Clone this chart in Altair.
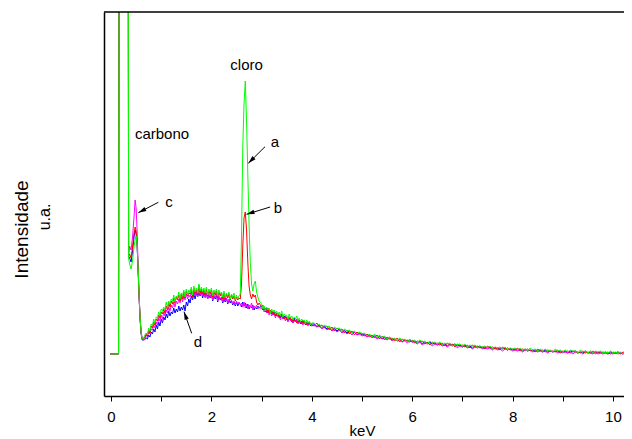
import math
import numpy as np
import pandas as pd
import altair as alt

FONT = "Liberation Sans"

# ---------------- energy grids (keV) ----------------
E_start = [-0.02, 0.15, 0.175, 0.33, 0.35, 0.37, 0.40, 0.43, 0.46, 0.48, 0.50,
           0.52, 0.54, 0.56, 0.58, 0.60, 0.62]
E_low = [round(v, 3) for v in np.arange(0.65, 2.5501, 0.025)]     # 77
E_cl = [round(v, 3) for v in np.arange(2.575, 2.9501, 0.025)]     # 16
E_mid = [round(v, 3) for v in np.arange(3.0, 4.0001, 0.025)]      # 41
E_high = [round(v, 3) for v in np.arange(4.05, 10.4001, 0.05)]    # 128

# ---------------- intensities (u.a.) ----------------
# a = green, b = red, c = magenta, d = blue
a_start = [42, 42, 1200, 1200, 138, 132, 127, 136, 150, 156, 160, 152, 128, 100, 78, 63, 57]
b_start = [42, 42, 1200, 1200, 140, 142, 138, 150, 163, 169, 165, 152, 126, 99, 77, 63, 57]
c_start = [42, 42, 1200, 1200, 142, 150, 146, 160, 180, 196, 188, 165, 130, 100, 78, 64, 58]
d_start = [42, 42, 1200, 1200, 140, 138, 134, 145, 160, 166, 162, 150, 125, 98, 76, 62, 56]

a_low = [58, 61, 63, 61, 68, 65, 72, 70, 77, 73,
         79, 78, 84, 80, 87, 85, 89, 86, 94, 88,
         95, 92, 97, 95, 101, 94, 100, 98, 104, 97,
         103, 100, 106, 99, 107, 101, 106, 103, 109, 101,
         110, 104, 108, 103, 112, 105, 109, 104, 108, 103,
         109, 101, 107, 104, 108, 100, 106, 103, 107, 100,
         106, 102, 104, 99, 105, 98, 103, 100, 104, 97,
         102, 99, 103, 96, 101, 97, 100]
b_low = [57, 59, 62, 60, 66, 63, 70, 68, 74, 71,
         77, 75, 81, 78, 84, 82, 87, 83, 90, 86,
         93, 89, 95, 92, 98, 93, 99, 96, 101, 95,
         102, 97, 104, 98, 105, 100, 103, 102, 107, 99,
         108, 102, 106, 101, 110, 103, 107, 102, 106, 101,
         107, 100, 105, 102, 106, 99, 104, 101, 105, 98,
         104, 100, 103, 97, 103, 96, 102, 98, 102, 96,
         101, 97, 100, 95, 99, 96, 98]
c_low = [57, 56, 61, 59, 64, 62, 67, 66, 71, 68,
         74, 71, 78, 75, 81, 77, 84, 80, 86, 83,
         89, 85, 91, 88, 94, 89, 95, 92, 97, 93,
         99, 94, 100, 96, 102, 97, 101, 99, 104, 98,
         105, 100, 104, 99, 111, 101, 105, 100, 104, 98,
         103, 97, 102, 99, 103, 96, 101, 98, 102, 95,
         100, 97, 99, 94, 99, 95, 98, 93, 97, 94,
         96, 92, 95, 91, 95, 92, 94]
d_low = [56, 57, 58, 57, 61, 59, 64, 62, 67, 64,
         71, 67, 74, 70, 77, 73, 79, 76, 82, 78,
         85, 80, 84, 82, 88, 83, 87, 84, 90, 85,
         89, 86, 91, 85, 94, 90, 97, 93, 100, 96,
         102, 97, 103, 99, 103, 100, 104, 98, 103, 99,
         102, 97, 101, 98, 102, 95, 100, 97, 101, 94,
         99, 96, 98, 93, 97, 94, 98, 92, 96, 93,
         95, 91, 94, 90, 94, 90, 93]

a_cl = [102, 160, 250, 292, 315, 275, 222, 172, 133, 112, 105, 112, 115, 104, 99, 95]
b_cl = [97, 112, 150, 178, 184, 166, 134, 110, 101, 97, 102, 99, 101, 94, 91, 93]
c_cl = [91, 93, 89, 94, 88, 92, 87, 91, 89, 93, 86, 90, 88, 91, 87, 89]
d_cl = [92, 89, 94, 90, 93, 88, 92, 87, 90, 88, 91, 86, 89, 87, 90, 88]

a_mid = [92, 87, 90, 85, 89, 86, 88, 83, 87, 84,
         86, 82, 85, 81, 84, 80, 85, 79, 82, 80,
         81, 77, 82, 78, 80, 76, 79, 77, 80, 75,
         78, 74, 77, 75, 76, 72, 76, 73, 75, 71,
         73]
b_mid = [89, 91, 86, 88, 84, 88, 83, 86, 82, 85,
         81, 84, 80, 83, 78, 82, 79, 81, 77, 80,
         76, 79, 77, 78, 74, 78, 75, 76, 73, 77,
         74, 75, 72, 76, 73, 74, 71, 74, 72, 73,
         71]
c_mid = [87, 89, 84, 86, 83, 87, 81, 84, 80, 83,
         82, 78, 83, 79, 80, 76, 81, 77, 79, 75,
         78, 74, 79, 75, 77, 73, 76, 74, 77, 72,
         75, 73, 74, 71, 75, 72, 73, 70, 74, 71,
         70]
d_mid = [90, 86, 89, 84, 88, 83, 86, 84, 85, 81,
         84, 80, 83, 81, 81, 78, 82, 77, 80, 78,
         79, 75, 78, 76, 77, 73, 78, 74, 76, 73,
         76, 72, 75, 73, 74, 71, 74, 72, 73, 70,
         72]

a_high = [73, 70, 72, 68, 71, 69, 70, 66, 69, 67,
          68, 64, 67, 65, 66, 63, 65, 62, 64, 62,
          63, 60, 62, 59, 62, 58, 61, 59, 60, 57,
          59, 57, 58, 55, 58, 56, 57, 54, 57, 55,
          56, 53, 56, 54, 55, 52, 55, 53, 54, 52,
          54, 51, 53, 52, 53, 50, 52, 51, 52, 50,
          52, 49, 51, 50, 51, 48, 50, 49, 50, 48,
          50, 47, 49, 48, 49, 47, 49, 46, 48, 47,
          48, 46, 48, 46, 47, 45, 48, 46, 47, 45,
          47, 45, 47, 45, 46, 44, 47, 45, 46, 44,
          46, 44, 46, 45, 45, 43, 46, 44, 45, 43,
          45, 43, 45, 44, 45, 43, 44, 43, 45, 43,
          44, 43, 44, 42, 44, 43, 44, 42]
b_high = [70, 73, 69, 71, 68, 70, 66, 69, 65, 68,
          66, 67, 63, 66, 62, 65, 61, 64, 62, 63,
          60, 62, 59, 61, 58, 61, 57, 60, 56, 59,
          57, 58, 55, 58, 54, 57, 55, 56, 54, 56,
          53, 55, 54, 55, 52, 54, 51, 54, 52, 53,
          51, 53, 50, 53, 51, 52, 49, 52, 50, 51,
          49, 51, 48, 51, 49, 50, 48, 49, 47, 50,
          48, 49, 47, 48, 46, 49, 47, 48, 46, 47,
          46, 48, 45, 47, 46, 47, 45, 46, 44, 47,
          45, 46, 44, 46, 45, 45, 44, 46, 43, 45,
          44, 45, 43, 45, 44, 44, 43, 45, 43, 44,
          43, 45, 42, 44, 43, 44, 43, 44, 42, 44,
          43, 44, 42, 44, 43, 43, 42, 44]
c_high = [71, 69, 70, 67, 69, 66, 68, 65, 67, 64,
          66, 63, 65, 62, 64, 61, 64, 61, 62, 60,
          61, 59, 61, 58, 60, 57, 59, 57, 58, 56,
          58, 55, 57, 55, 56, 54, 56, 53, 55, 54,
          54, 52, 54, 51, 53, 52, 53, 50, 52, 51,
          52, 50, 51, 49, 51, 50, 51, 48, 50, 49,
          50, 48, 49, 47, 49, 48, 49, 47, 48, 47,
          48, 46, 48, 46, 47, 45, 47, 46, 47, 45,
          46, 45, 46, 44, 46, 45, 46, 44, 45, 44,
          45, 44, 45, 43, 45, 44, 45, 43, 44, 43,
          44, 43, 44, 42, 44, 43, 44, 42, 44, 43,
          43, 42, 44, 42, 43, 42, 43, 42, 43, 42,
          43, 42, 43, 42, 43, 42, 43, 42]
d_high = [72, 69, 71, 68, 70, 67, 68, 66, 68, 65,
          67, 64, 66, 63, 65, 63, 64, 61, 63, 61,
          62, 59, 61, 59, 60, 58, 60, 57, 59, 57,
          58, 56, 57, 55, 57, 54, 56, 55, 56, 54,
          55, 53, 55, 52, 54, 53, 54, 52, 53, 51,
          53, 51, 52, 50, 52, 51, 52, 50, 51, 49,
          51, 49, 50, 48, 50, 49, 50, 48, 49, 48,
          49, 47, 49, 47, 48, 47, 48, 46, 48, 46,
          47, 46, 47, 45, 47, 45, 46, 45, 46, 45,
          46, 44, 46, 44, 45, 44, 45, 44, 45, 44,
          45, 43, 45, 44, 45, 43, 44, 43, 45, 43,
          44, 43, 44, 43, 44, 43, 44, 42, 44, 43,
          43, 44, 43, 42, 44, 43, 43, 43]

energy = E_start + E_low + E_cl + E_mid + E_high
series = {
    "a": a_start + a_low + a_cl + a_mid + a_high,
    "b": b_start + b_low + b_cl + b_mid + b_high,
    "c": c_start + c_low + c_cl + c_mid + c_high,
    "d": d_start + d_low + d_cl + d_mid + d_high,
}
colors = {"a": "#00ff00", "b": "#ff0000", "c": "#ff00ff", "d": "#0000ff"}
draw_order = ["d", "c", "b", "a"]

rows = []
for s, vals in series.items():
    n = min(len(vals), len(energy))
    for e, v in zip(energy[:n], vals[:n]):
        rows.append({"serie": s, "energia": e, "intensidade": v})
df = pd.DataFrame(rows)

# ---------------- annotations ----------------
label_text = ["cloro", "carbono", "a", "b", "c", "d"]
label_x = [2.70, 1.016, 3.267, 3.327, 1.155, 1.733]
label_y = [326, 257, 249, 183, 189, 49]
labels = pd.DataFrame({"t": label_text, "energia": label_x, "intensidade": label_y})

arrow_x = [3.068, 3.17, 0.943, 1.607]
arrow_y = [249.3, 189, 193.7, 62.7]
arrow_x2 = [2.735, 2.70, 0.544, 1.454]
arrow_y2 = [232.7, 181.7, 183.3, 84.3]

# ---------------- layout ----------------
XMIN, XMAX = -0.14, 10.22
YMIN, YMAX = 0, 384
W, H = 520, 384
ppk = W / (XMAX - XMIN)
ppu = H / (YMAX - YMIN)
angles = []
for x1, y1, x2, y2 in zip(arrow_x, arrow_y, arrow_x2, arrow_y2):
    dx = (x2 - x1) * ppk
    dy = -(y2 - y1) * ppu
    angles.append(math.degrees(math.atan2(dx, -dy)) % 360)
arrows = pd.DataFrame({"energia": arrow_x, "intensidade": arrow_y,
                       "x2": arrow_x2, "y2": arrow_y2, "ang": angles})

xscale = alt.Scale(domain=[XMIN, XMAX], nice=False, zero=False)
yscale = alt.Scale(domain=[YMIN, YMAX], nice=False, zero=False)

xaxis = alt.Axis(
    values=[i * 0.5 for i in range(21)],
    format="d",
    labelExpr="datum.value % 2 === 0 ? datum.label : ''",
    tickSize=5, tickColor="black", labelPadding=8, labelFlush=False, labelOverlap=False,
    labelFontSize=15, labelFont=FONT, labelColor="black",
    grid=False, domainColor="black", domainWidth=1.5,
    title="keV", titleFont=FONT, titleFontSize=15, titleFontWeight="normal", titleColor="black",
    titleX=258, titleY=39, titleBaseline="alphabetic", titleAlign="center",
)
yaxis = alt.Axis(
    labels=False, ticks=False, grid=False, domainColor="black", domainWidth=1.5,
    title="Intensidade", titleFont=FONT, titleFontSize=19, titleFontWeight="normal",
    titleColor="black", titleAngle=270, titleX=-77, titleY=217,
    titleBaseline="alphabetic", titleAlign="center",
)
X = alt.X("energia:Q", scale=xscale, axis=xaxis)
Y = alt.Y("intensidade:Q", scale=yscale, axis=yaxis)

layers = []
for s in draw_order:
    layers.append(
        alt.Chart(df).transform_filter(alt.datum.serie == s)
        .mark_line(color=colors[s], strokeWidth=1, clip=True)
        .encode(x=X, y=Y)
    )

top = alt.Chart(pd.DataFrame({"intensidade": [YMAX]})).mark_rule(
    color="black", strokeWidth=1.5
).encode(y=Y)

rules = alt.Chart(arrows).mark_rule(color="black", strokeWidth=1).encode(
    x=X, y=Y, x2="x2:Q", y2="y2:Q"
)
heads = alt.Chart(arrows).mark_point(
    shape="M0,0L-0.55,2L0.55,2Z", filled=True, size=64, color="black", opacity=1, strokeWidth=0
).encode(
    x=alt.X("x2:Q", scale=xscale, axis=xaxis),
    y=alt.Y("y2:Q", scale=yscale, axis=yaxis),
    angle=alt.Angle("ang:Q", scale=None),
)

texts = alt.Chart(labels).mark_text(
    font=FONT, fontSize=15, color="black", align="center", baseline="alphabetic"
).encode(x=X, y=Y, text="t:N")

ua = alt.Chart(pd.DataFrame({"t": ["u.a."]})).mark_text(
    font=FONT, fontSize=16, color="black", align="center", baseline="alphabetic", angle=270
).encode(x=alt.value(-54), y=alt.value(205), text="t:N")

chart = alt.layer(*layers, top, rules, heads, texts, ua).properties(
    width=W, height=H,
    autosize=alt.AutoSizeParams(type="none"),
    padding={"left": 96, "top": 4, "right": 0, "bottom": 45},
).configure_view(stroke=None)

chart.save("out.html", embed_options={"renderer": "svg", "actions": False})
